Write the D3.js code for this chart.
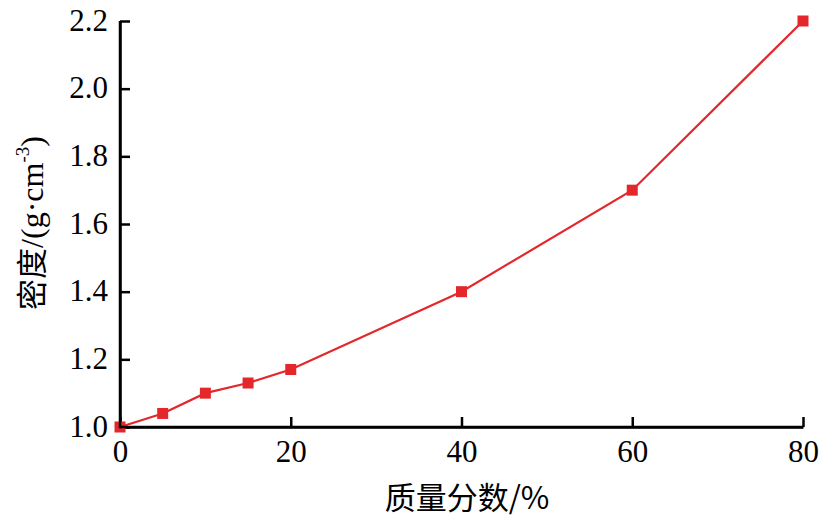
<!DOCTYPE html>
<html><head><meta charset="utf-8">
<script src="https://cdn.jsdelivr.net/npm/d3@7"></script>
<style>body{margin:0;background:#fff}
.serif{font-family:"Liberation Serif","Times New Roman",Tinos,"DejaVu Serif",serif}
.cjk{font-family:"Noto Sans CJK SC","Noto Sans CJK JP",sans-serif}
</style>
</head><body>
<svg id="c" width="820" height="520"></svg>
<script>
const xValues = [0, 5, 10, 15, 20, 40, 60, 80];
const densities = [1.00, 1.04, 1.10, 1.13, 1.17, 1.40, 1.70, 2.20];
const xTicks = [0, 20, 40, 60, 80];
const yTicks = [1.0, 1.2, 1.4, 1.6, 1.8, 2.0, 2.2];

const svg = d3.select("#c");
const m = {l:120, r:17, t:21, b:93};
const W = 820, H = 520;
const x = d3.scaleLinear().domain([0,80]).range([m.l, W-m.r]);
const y = d3.scaleLinear().domain([1.0,2.2]).range([H-m.b, m.t]);
const serifFam = '"Liberation Serif","Times New Roman",Tinos,"DejaVu Serif",serif';

const xa = svg.append("g").attr("transform",`translate(0,${H-m.b})`)
  .call(d3.axisBottom(x).tickValues(xTicks).tickFormat(d3.format("d")).tickSizeInner(-10).tickSizeOuter(0).tickPadding(13));
const ya = svg.append("g").attr("transform",`translate(${m.l},0)`)
  .call(d3.axisLeft(y).tickValues(yTicks).tickFormat(d3.format(".1f")).tickSizeInner(-10).tickSizeOuter(0).tickPadding(12));
[xa, ya].forEach(g=>{
  g.attr("font-family",null).attr("font-size",null);
  g.selectAll("path,line").attr("stroke","#000").attr("stroke-width",2.5);
  g.selectAll("text").attr("class","serif").style("font-family",serifFam).style("font-size","31px").attr("fill","#000");
});
ya.selectAll("text").attr("dy","0.3em");

const line = d3.line().x((d,i)=>x(xValues[i])).y(d=>y(d));
svg.append("path").datum(densities).attr("d",line)
  .attr("fill","none").attr("stroke","#e3272b").attr("stroke-width",2.2);
svg.selectAll("rect.m").data(densities).enter().append("rect")
  .attr("x",(d,i)=>x(xValues[i])-5.5).attr("y",d=>y(d)-5.5)
  .attr("width",11).attr("height",11).attr("fill","#e3272b");

svg.append("line").attr("x1",m.l).attr("x2",m.l).attr("y1",m.t).attr("y2",H-m.b+1.25).attr("stroke","#000").attr("stroke-width",2.5);
svg.append("line").attr("x1",m.l).attr("x2",W-m.r).attr("y1",H-m.b).attr("y2",H-m.b).attr("stroke","#000").attr("stroke-width",2.5);

svg.append("text").attr("x",467).attr("y",509).attr("text-anchor","middle")
  .attr("class","cjk").style("font-size","31px").attr("fill","#000")
  .text("质量分数/%");

const yl = svg.append("text").attr("transform","translate(43,223) rotate(-90)")
  .attr("text-anchor","middle").style("font-size","32px").attr("fill","#000");
yl.append("tspan").attr("class","cjk").style("font-size","31px").text("密度");
yl.append("tspan").attr("class","serif").text("/(g·cm");
yl.append("tspan").attr("class","serif").style("font-size","19px").attr("dy",-14).text("-3");
yl.append("tspan").attr("class","serif").attr("dy",14).text(")");
</script>
</body></html>
